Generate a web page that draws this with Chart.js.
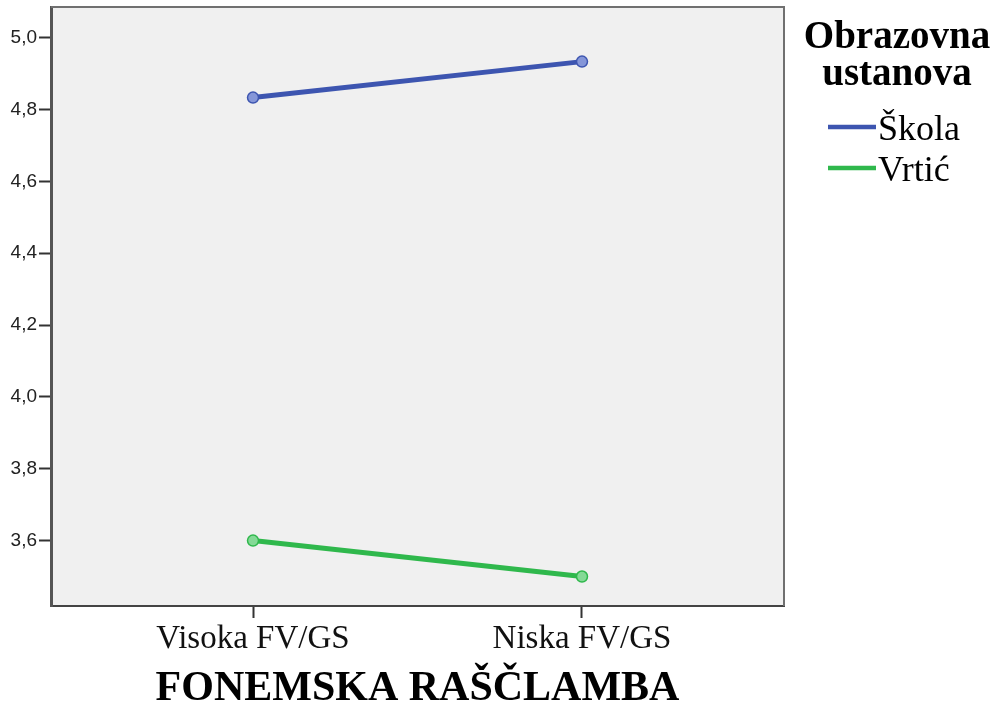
<!DOCTYPE html>
<html>
<head>
<meta charset="utf-8">
<script src="https://cdn.jsdelivr.net/npm/chart.js@4.4.1/dist/chart.umd.min.js"></script>
<style>
  html, body { margin: 0; padding: 0; background: #ffffff; }
  #wrap { width: 1002px; height: 704px; position: relative; }
</style>
</head>
<body>
<div id="wrap"><canvas id="c" width="1002" height="704"></canvas></div>
<script>
// ---- data ----
const categories = ['Visoka FV/GS', 'Niska FV/GS'];
const seriesNames = ['Škola', 'Vrtić'];
const skolaValues = [4.833, 4.933];
const vrticValues = [3.600, 3.500];
const yTickValues = [3.6, 3.8, 4.0, 4.2, 4.4, 4.6, 4.8, 5.0];
const xAxisTitle = 'FONEMSKA RAŠČLAMBA';
const legendTitle = ['Obrazovna', 'ustanova'];

const colors = ['#3d55b0', '#2fb84c'];
const fills = ['#8596d8', '#84d996'];

function toPoints(vals) { return vals.map((v, i) => ({ x: i, y: v })); }

const plotBg = {
  id: 'plotBg',
  beforeDraw(chart) {
    const { ctx, chartArea: a } = chart;
    ctx.save();
    ctx.fillStyle = '#f0f0f0';
    ctx.fillRect(a.left, a.top, a.right - a.left, a.bottom - a.top);
    ctx.restore();
  },
  beforeDatasetsDraw(chart) {
    const { ctx, chartArea: a } = chart;
    ctx.save();
    ctx.strokeStyle = '#707070';
    ctx.lineWidth = 2;
    ctx.beginPath();
    ctx.moveTo(a.left, a.top);
    ctx.lineTo(a.right, a.top);
    ctx.lineTo(a.right, a.bottom);
    ctx.stroke();
    ctx.restore();
  }
};

const sideLegend = {
  id: 'sideLegend',
  afterDraw(chart) {
    const { ctx } = chart;
    ctx.save();
    ctx.fillStyle = '#000';
    ctx.textAlign = 'center';
    ctx.textBaseline = 'alphabetic';
    ctx.font = 'bold 39px "Liberation Serif", "Times New Roman", serif';
    const cx = 897;
    ctx.fillText(legendTitle[0], cx, 48);
    ctx.fillText(legendTitle[1], cx, 85);
    ctx.font = '36px "Liberation Serif", "Times New Roman", serif';
    ctx.textAlign = 'left';
    chart.data.datasets.forEach((ds, i) => {
      const y = 127 + i * 41;
      ctx.strokeStyle = ds.borderColor;
      ctx.lineWidth = 4.5;
      ctx.beginPath();
      ctx.moveTo(828, y);
      ctx.lineTo(876, y);
      ctx.stroke();
      ctx.fillText(ds.label, 878, y + 13);
    });
    ctx.restore();
  }
};

new Chart(document.getElementById('c'), {
  type: 'line',
  data: {
    datasets: [
      {
        label: seriesNames[0],
        data: toPoints(skolaValues),
        borderColor: colors[0],
        backgroundColor: fills[0],
        borderWidth: 5,
        pointRadius: 5.5,
        pointBorderWidth: 1.5,
        pointBackgroundColor: fills[0],
        pointBorderColor: colors[0]
      },
      {
        label: seriesNames[1],
        data: toPoints(vrticValues),
        borderColor: colors[1],
        backgroundColor: fills[1],
        borderWidth: 5,
        pointRadius: 5.5,
        pointBorderWidth: 1.5,
        pointBackgroundColor: fills[1],
        pointBorderColor: colors[1]
      }
    ]
  },
  options: {
    responsive: false,
    animation: false,
    devicePixelRatio: 1,
    layout: { padding: { top: 7, right: 218, left: 0, bottom: 0 } },
    plugins: { legend: { display: false }, tooltip: { enabled: false } },
    scales: {
      x: {
        type: 'linear',
        min: -0.614,
        max: 1.614,
        afterBuildTicks(scale) { scale.ticks = categories.map((c, i) => ({ value: i })); },
        afterFit(scale) { scale.height = 98; scale.paddingLeft = 0; scale.paddingRight = 0; },
        ticks: {
          callback: (v) => categories[v] ?? '',
          font: { family: '"Liberation Serif", "Times New Roman", serif', size: 33 },
          color: '#111',
          padding: 2,
          maxRotation: 0,
          autoSkip: false
        },
        grid: { display: true, drawOnChartArea: false, drawTicks: true, tickLength: 12, tickColor: '#333', tickWidth: 2 },
        border: { display: true, color: '#444', width: 2 },
        title: {
          display: true,
          text: xAxisTitle,
          font: { family: '"Liberation Serif", "Times New Roman", serif', size: 42, weight: 'bold', lineHeight: 0.8 },
          color: '#000',
          padding: { top: 0, bottom: -2 }
        }
      },
      y: {
        type: 'linear',
        min: 3.418,
        max: 5.085,
        afterBuildTicks(scale) { scale.ticks = yTickValues.map(v => ({ value: v })); },
        afterFit(scale) { scale.width = 51; scale.paddingTop = 0; scale.paddingBottom = 0; },
        ticks: {
          callback: (v) => v.toFixed(1).replace('.', ','),
          font: { family: '"Liberation Sans", Arial, sans-serif', size: 19 },
          color: '#222',
          padding: 2
        },
        grid: { display: true, drawOnChartArea: false, drawTicks: true, tickLength: 12, tickColor: '#333', tickWidth: 2 },
        border: { display: true, color: '#555', width: 3 }
      }
    }
  },
  plugins: [plotBg, sideLegend]
});
</script>
</body>
</html>
